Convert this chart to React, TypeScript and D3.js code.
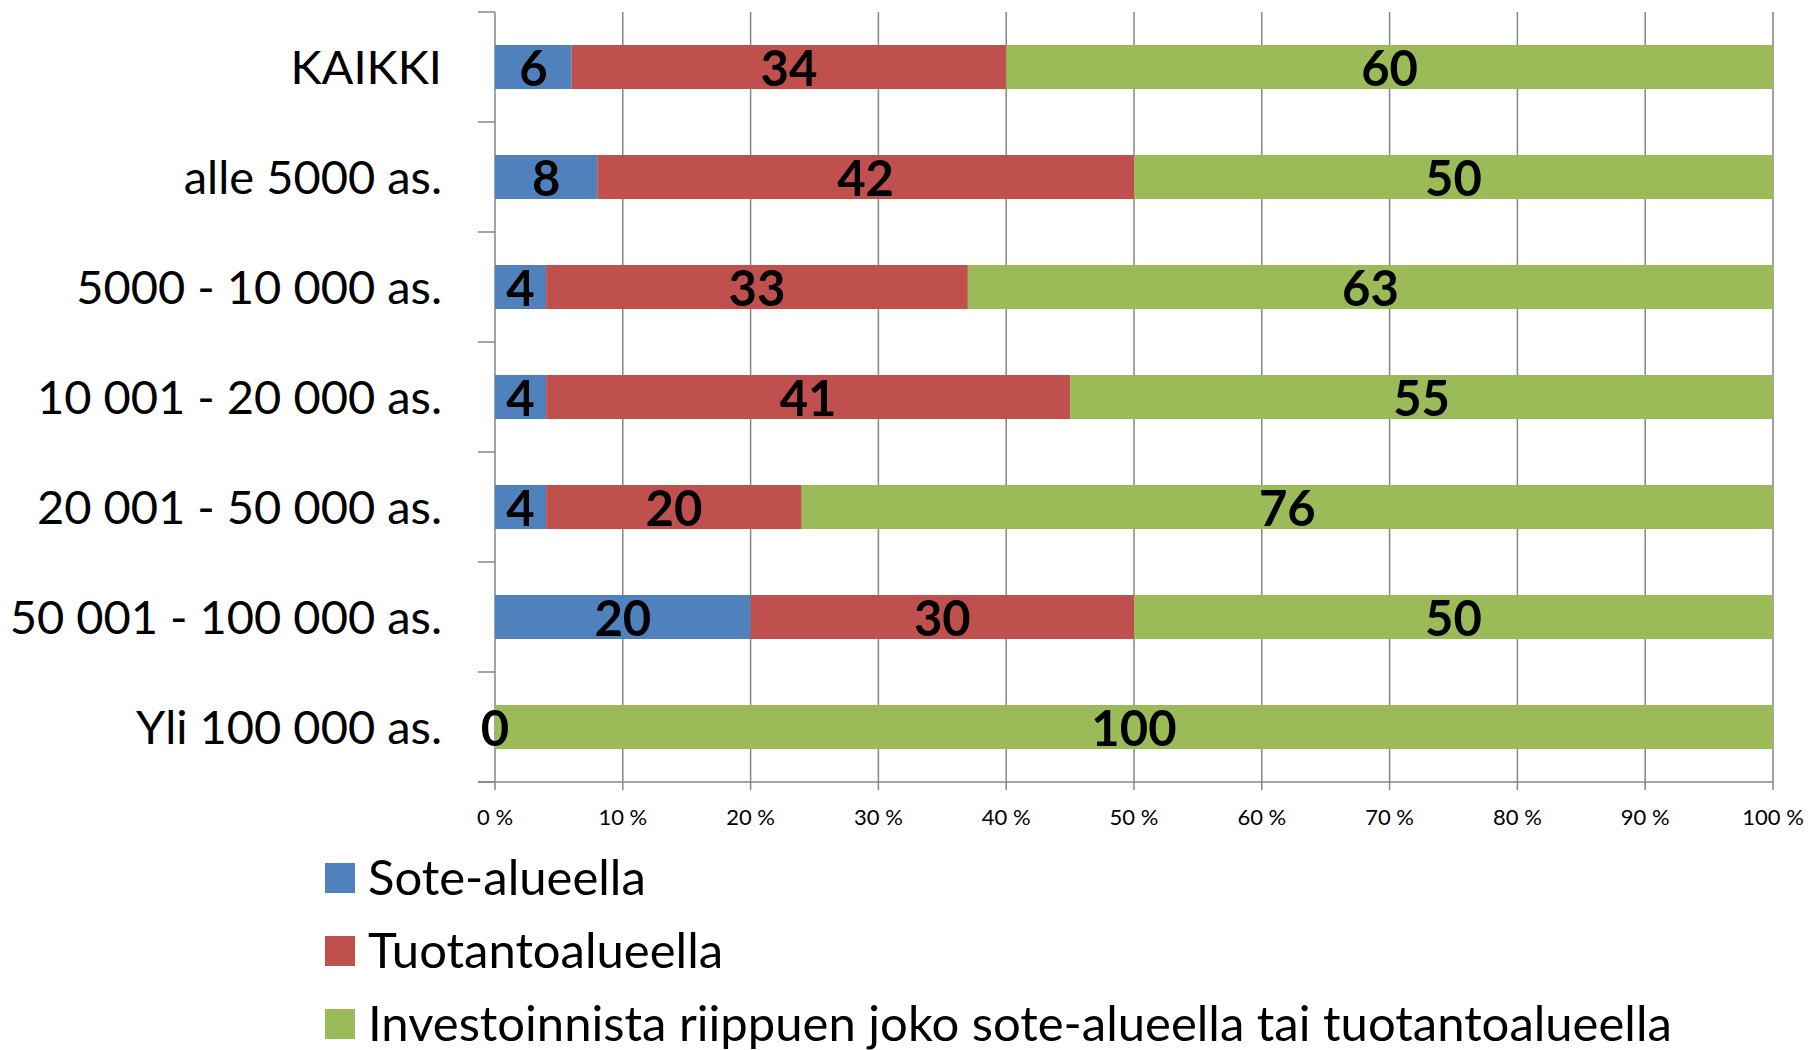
import React from "react";
import * as d3 from "d3";

const categories = [
  "KAIKKI",
  "alle 5000 as.",
  "5000 - 10 000 as.",
  "10 001 - 20 000 as.",
  "20 001 - 50 000 as.",
  "50 001 - 100 000 as.",
  "Yli 100 000 as.",
];
const seriesNames = [
  "Sote-alueella",
  "Tuotantoalueella",
  "Investoinnista riippuen joko sote-alueella tai tuotantoalueella",
];
const sote = [6, 8, 4, 4, 4, 20, 0];
const tuotanto = [34, 42, 33, 41, 20, 30, 0];
const investointi = [60, 50, 63, 55, 76, 50, 100];
const colors = ["#4F81BD", "#C0504D", "#9BBB59"];
const xTicks = [0, 10, 20, 30, 40, 50, 60, 70, 80, 90, 100];

const FONT = "Lato, 'Open Sans', sans-serif";

export default function App() {
  const width = 1808;
  const height = 1050;
  const left = 495;
  const right = 1773;
  const top = 12;
  const bottom = 782;

  const x = d3.scaleLinear().domain([0, 100]).range([left, right]);
  const y = d3
    .scaleBand<string>()
    .domain(categories)
    .range([top, bottom])
    .paddingInner(0.6)
    .paddingOuter(0.3);
  const step = y.step();

  const rows = categories.map((c, i) => ({
    cat: c,
    vals: [sote[i], tuotanto[i], investointi[i]],
  }));
  const stack = d3.stack<any>().keys(["0", "1", "2"]).value((d, k) => d.vals[+k]);
  const series = stack(rows);

  return (
    <div style={{ position: "absolute", left: 0, top: 0 }}>
      <svg width={width} height={height} style={{ display: "block", background: "#fff" }}>
        {/* gridlines and axes */}
        <g stroke="#868686" strokeWidth={1.5}>
          {xTicks.map((t) => (
            <line key={t} x1={x(t)} x2={x(t)} y1={top} y2={bottom + 8} />
          ))}
          <line x1={left - 17} x2={right} y1={bottom} y2={bottom} />
          {d3.range(categories.length + 1).map((i) => (
            <line key={i} x1={left - 17} x2={left} y1={top + i * step} y2={top + i * step} />
          ))}
        </g>
        {/* bars */}
        {series.map((s, si) => (
          <g key={si} fill={colors[si]}>
            {s.map((d, i) => (
              <rect
                key={i}
                x={x(d[0])}
                y={y(categories[i])}
                width={x(d[1]) - x(d[0])}
                height={y.bandwidth()}
              />
            ))}
          </g>
        ))}
        {/* data labels */}
        {series.map((s, si) => (
          <g key={si} fontFamily={FONT} fontWeight="bold" fontSize={49} textAnchor="middle" fill="#000">
            {s.map((d, i) => {
              const v = d[1] - d[0];
              if (si === 1 && v === 0) return null;
              return (
                <text key={i} x={x((d[0] + d[1]) / 2)} y={y(categories[i])! + y.bandwidth() / 2} dy="0.39em">
                  {v}
                </text>
              );
            })}
          </g>
        ))}
        {/* category labels */}
        <g fontFamily={FONT} fontSize={47} textAnchor="end" fill="#000">
          {categories.map((c) => (
            <text key={c} x={442} y={y(c)! + y.bandwidth() / 2} dy="0.36em">
              {c}
            </text>
          ))}
        </g>
        {/* x tick labels */}
        <g fontFamily={FONT} fontSize={22} textAnchor="middle" fill="#000">
          {xTicks.map((t) => (
            <text key={t} x={x(t)} y={825}>
              {t} %
            </text>
          ))}
        </g>
        {/* legend */}
        <g fontFamily={FONT} fontSize={49} fill="#000">
          {seriesNames.map((n, i) => (
            <g key={n} transform={`translate(325, ${878 + i * 73})`}>
              <rect x={0} y={-15} width={30} height={30} fill={colors[i]} />
              <text x={43} y={0} dy="0.34em">
                {n}
              </text>
            </g>
          ))}
        </g>
      </svg>
    </div>
  );
}
